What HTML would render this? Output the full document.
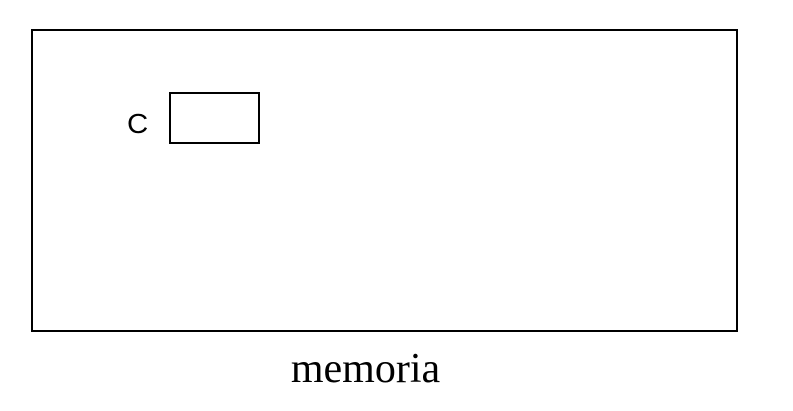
<!DOCTYPE html>
<html><head><style>
html,body{margin:0;padding:0;background:#fff;width:793px;height:411px;overflow:hidden}
</style></head><body>
<svg width="793" height="411" xmlns="http://www.w3.org/2000/svg">
<rect x="32" y="30" width="705" height="301" fill="none" stroke="#000" stroke-width="2"/>
<rect x="170" y="93" width="89" height="50" fill="none" stroke="#000" stroke-width="2"/>
<text x="127" y="133" font-family="Liberation Sans, sans-serif" font-size="28" transform="translate(127 0) scale(1.05 1) translate(-127 0)">C</text>
<text x="365.5" y="382" text-anchor="middle" font-family="Liberation Serif, serif" font-size="42">memoria</text>
</svg>
</body></html>
